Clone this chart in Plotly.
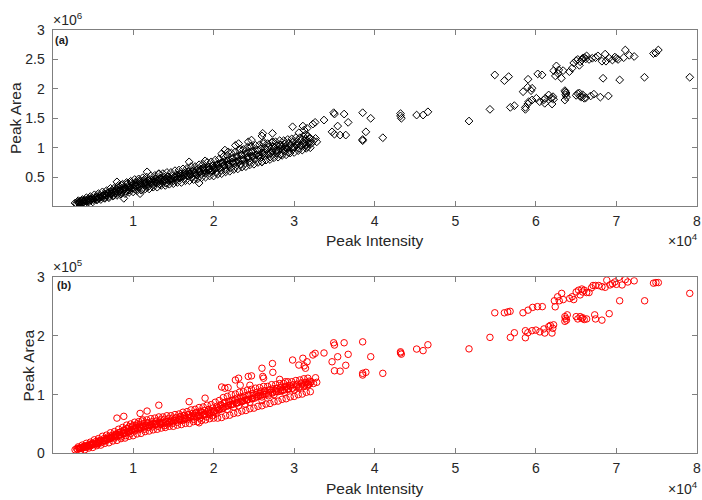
import plotly.graph_objects as go

# ---------------- data (intensity in units of 1e4; panel (a) area in 1e6; panel (b) area in 1e5) ----------------
band_intensity = [
    0.28, 0.30, 0.31, 0.33, 0.34, 0.36, 0.37, 0.39, 0.40, 0.42, 0.43, 0.45, 0.46, 0.48, 0.50, 0.51, 0.53, 0.55, 0.56, 0.58, 0.60,
    0.62, 0.64, 0.65, 0.67, 0.68, 0.70, 0.71, 0.73, 0.74, 0.76, 0.77, 0.79, 0.80, 0.82, 0.83, 0.85, 0.86, 0.88, 0.89, 0.91, 0.92, 0.94, 0.95, 0.97, 0.98, 1.00,
    1.01, 1.02, 1.04, 1.05, 1.07, 1.08, 1.10, 1.11, 1.13, 1.14, 1.16, 1.17, 1.19, 1.20, 1.22, 1.24, 1.25, 1.27, 1.29, 1.31, 1.33, 1.35, 1.37, 1.39, 1.41, 1.43, 1.45, 1.47, 1.49,
    1.51, 1.53, 1.55, 1.57, 1.59, 1.61, 1.63, 1.65, 1.67, 1.69, 1.71, 1.73, 1.75, 1.77, 1.79, 1.81, 1.83, 1.85, 1.87, 1.89, 1.91, 1.93, 1.95, 1.97, 1.99,
    2.01, 2.03, 2.05, 2.07, 2.09, 2.11, 2.13, 2.15, 2.17, 2.19, 2.21, 2.23, 2.25, 2.27, 2.29, 2.31, 2.33, 2.35, 2.37, 2.39, 2.41, 2.43, 2.45, 2.47, 2.49,
    2.51, 2.53, 2.55, 2.58, 2.60, 2.63, 2.65, 2.68, 2.70, 2.73, 2.75, 2.78, 2.80, 2.83, 2.85, 2.88, 2.90, 2.93, 2.95, 2.98, 3.00, 3.03, 3.06, 3.09, 3.12, 3.15, 3.18, 3.21, 3.24, 3.28,
    0.35, 0.47, 0.57, 0.66, 0.72, 0.78, 0.84, 0.90, 0.96, 1.03, 1.09, 1.15, 1.21, 1.28, 1.34, 1.40, 1.46, 1.52, 1.58, 1.64,
    1.70, 1.76, 1.82, 1.88, 1.94, 2.00, 2.06, 2.12, 2.18, 2.24, 2.30, 2.36, 2.42, 2.48, 2.56, 2.62, 2.71, 2.77, 2.86, 2.92,
]
band_area_a = [
    0.06, 0.05, 0.08, 0.07, 0.09, 0.06, 0.10, 0.08, 0.11, 0.09, 0.12, 0.10, 0.13, 0.11, 0.14, 0.12, 0.15, 0.13, 0.17, 0.14, 0.16,
    0.18, 0.15, 0.21, 0.19, 0.23, 0.17, 0.25, 0.21, 0.28, 0.19, 0.26, 0.30, 0.22, 0.33, 0.27, 0.24, 0.36, 0.29, 0.31, 0.26, 0.38, 0.33, 0.28, 0.35, 0.41, 0.31,
    0.38, 0.30, 0.42, 0.35, 0.33, 0.44, 0.37, 0.29, 0.40, 0.46, 0.36, 0.41, 0.34, 0.45, 0.39, 0.43, 0.37, 0.47, 0.40, 0.44, 0.38, 0.49, 0.42, 0.46, 0.40, 0.51, 0.44, 0.47, 0.43,
    0.50, 0.45, 0.53, 0.48, 0.56, 0.51, 0.47, 0.58, 0.53, 0.60, 0.55, 0.50, 0.62, 0.57, 0.53, 0.64, 0.59, 0.55, 0.66, 0.61, 0.57, 0.68, 0.63, 0.59, 0.70,
    0.64, 0.58, 0.72, 0.66, 0.61, 0.75, 0.69, 0.63, 0.78, 0.71, 0.66, 0.82, 0.74, 0.68, 0.85, 0.77, 0.71, 0.88, 0.79, 0.73, 0.91, 0.82, 0.76, 0.93, 0.85,
    0.80, 0.88, 0.95, 0.83, 0.91, 0.86, 0.97, 0.89, 0.84, 0.93, 1.00, 0.90, 0.95, 0.88, 1.02, 0.94, 0.99, 0.92, 1.04, 0.97, 1.01, 1.06, 0.99, 1.03, 1.08, 1.05, 1.10, 1.07, 1.12, 1.10,
    0.07, 0.12, 0.15, 0.20, 0.22, 0.24, 0.27, 0.30, 0.33, 0.36, 0.39, 0.40, 0.42, 0.43, 0.45, 0.46, 0.48, 0.49, 0.52, 0.54,
    0.56, 0.57, 0.60, 0.62, 0.63, 0.66, 0.68, 0.70, 0.73, 0.75, 0.78, 0.80, 0.83, 0.86, 0.87, 0.90, 0.91, 0.95, 0.96, 0.98,
]
band_area_b = [
    0.06, 0.08, 0.07, 0.09, 0.08, 0.10, 0.09, 0.11, 0.12, 0.10, 0.13, 0.12, 0.14, 0.13, 0.15, 0.16, 0.15, 0.17, 0.16, 0.19, 0.18,
    0.20, 0.22, 0.21, 0.24, 0.23, 0.26, 0.25, 0.28, 0.27, 0.30, 0.26, 0.32, 0.29, 0.35, 0.31, 0.28, 0.37, 0.33, 0.40, 0.30, 0.42, 0.36, 0.45, 0.34, 0.39, 0.47,
    0.42, 0.38, 0.44, 0.50, 0.40, 0.46, 0.43, 0.55, 0.45, 0.41, 0.48, 0.52, 0.44, 0.47, 0.49, 0.45, 0.51, 0.48, 0.50, 0.46, 0.53, 0.49, 0.51, 0.47, 0.54, 0.50, 0.52, 0.55, 0.51,
    0.55, 0.60, 0.53, 0.58, 0.62, 0.56, 0.64, 0.59, 0.57, 0.66, 0.61, 0.63, 0.58, 0.68, 0.62, 0.65, 0.60, 0.70, 0.64, 0.67, 0.62, 0.72, 0.66, 0.69, 0.64,
    0.72, 0.68, 0.78, 0.74, 0.82, 0.76, 0.86, 0.80, 0.75, 0.88, 0.83, 0.90, 0.79, 0.92, 0.86, 0.81, 0.94, 0.88, 0.96, 0.84, 0.91, 0.98, 0.87, 0.93, 0.99,
    0.94, 1.00, 0.97, 1.03, 0.96, 1.06, 1.01, 0.98, 1.08, 1.03, 1.00, 1.10, 1.05, 1.12, 1.07, 1.04, 1.13, 1.09, 1.15, 1.11, 1.08, 1.16, 1.12, 1.18, 1.14, 1.20, 1.17, 1.22, 1.19, 1.21,
    0.09, 0.14, 0.17, 0.22, 0.25, 0.28, 0.31, 0.34, 0.37, 0.41, 0.43, 0.45, 0.47, 0.49, 0.50, 0.52, 0.53, 0.56, 0.57, 0.59,
    0.61, 0.62, 0.64, 0.66, 0.68, 0.70, 0.74, 0.77, 0.81, 0.84, 0.86, 0.89, 0.91, 0.93, 0.99, 1.01, 1.04, 1.06, 1.08, 1.10,
]

# upper edge of the dense band
upper_intensity = [0.32, 0.37, 0.42, 0.47, 0.52, 0.57, 0.62, 0.67, 0.72, 0.77, 0.82, 0.87, 0.92, 0.97, 1.02, 1.07, 1.12, 1.17, 1.22, 1.27,
                   1.32, 1.37, 1.42, 1.47, 1.52, 1.57, 1.62, 1.67, 1.72, 1.77, 1.82, 1.87, 1.92, 1.97, 2.02, 2.07, 2.12, 2.17, 2.22, 2.27,
                   2.32, 2.37, 2.42, 2.47, 2.52, 2.57, 2.62, 2.67, 2.72, 2.77, 2.82, 2.87, 2.92, 2.97, 3.02, 3.07, 3.12, 3.17]
upper_area_a = [0.10, 0.12, 0.15, 0.17, 0.20, 0.22, 0.25, 0.27, 0.31, 0.32, 0.36, 0.38, 0.41, 0.43, 0.46, 0.47, 0.49, 0.50, 0.52, 0.53,
                0.55, 0.56, 0.58, 0.58, 0.61, 0.62, 0.64, 0.65, 0.68, 0.68, 0.71, 0.72, 0.75, 0.76, 0.79, 0.81, 0.85, 0.87, 0.91, 0.93,
                0.96, 0.97, 1.01, 1.02, 1.04, 1.05, 1.07, 1.07, 1.09, 1.10, 1.12, 1.12, 1.14, 1.15, 1.17, 1.17, 1.19, 1.20]
upper_area_b = [0.11, 0.14, 0.17, 0.19, 0.23, 0.25, 0.29, 0.31, 0.35, 0.37, 0.41, 0.44, 0.48, 0.50, 0.53, 0.54, 0.57, 0.57, 0.59, 0.60,
                0.62, 0.62, 0.64, 0.64, 0.66, 0.67, 0.70, 0.71, 0.74, 0.75, 0.78, 0.79, 0.82, 0.83, 0.87, 0.90, 0.95, 0.97, 1.00, 1.01,
                1.04, 1.05, 1.08, 1.09, 1.11, 1.12, 1.14, 1.14, 1.17, 1.17, 1.19, 1.19, 1.22, 1.22, 1.24, 1.25, 1.27, 1.28]

# lower edge of the dense band
lower_intensity = [0.35, 0.40, 0.45, 0.50, 0.55, 0.60, 0.65, 0.70, 0.75, 0.80, 0.85, 0.90, 0.95, 1.00, 1.05, 1.10, 1.15, 1.20, 1.25, 1.30,
                   1.35, 1.40, 1.45, 1.50, 1.55, 1.60, 1.65, 1.70, 1.75, 1.80, 1.85, 1.90, 1.95, 2.00, 2.05, 2.10, 2.15, 2.20, 2.25, 2.30,
                   2.35, 2.40, 2.45, 2.50, 2.55, 2.60, 2.65, 2.70, 2.75, 2.80, 2.85, 2.90, 2.95, 3.00, 3.05, 3.10, 3.15, 3.20]
lower_area_a = [0.04, 0.05, 0.08, 0.08, 0.11, 0.12, 0.14, 0.15, 0.18, 0.19, 0.21, 0.22, 0.24, 0.25, 0.27, 0.28, 0.30, 0.30, 0.33, 0.33,
                0.36, 0.36, 0.38, 0.39, 0.41, 0.41, 0.44, 0.44, 0.46, 0.47, 0.49, 0.50, 0.52, 0.52, 0.55, 0.56, 0.59, 0.60, 0.63, 0.64,
                0.67, 0.68, 0.71, 0.72, 0.75, 0.76, 0.79, 0.80, 0.83, 0.84, 0.87, 0.88, 0.91, 0.92, 0.95, 0.96, 0.99, 1.00]
lower_area_b = [0.05, 0.06, 0.09, 0.10, 0.13, 0.14, 0.17, 0.18, 0.21, 0.22, 0.25, 0.26, 0.29, 0.30, 0.33, 0.34, 0.37, 0.38, 0.40, 0.41,
                0.43, 0.44, 0.46, 0.46, 0.48, 0.49, 0.51, 0.51, 0.54, 0.54, 0.56, 0.57, 0.59, 0.60, 0.60, 0.61, 0.64, 0.65, 0.68, 0.69,
                0.72, 0.73, 0.76, 0.77, 0.80, 0.81, 0.84, 0.85, 0.88, 0.89, 0.92, 0.93, 0.96, 0.97, 1.00, 1.01, 1.04, 1.05]

# inner rows of the dense band
inner1_intensity = [0.33, 0.38, 0.43, 0.48, 0.53, 0.58, 0.63, 0.68, 0.73, 0.78, 0.83, 0.88, 0.93, 0.98, 1.03, 1.08, 1.13, 1.18, 1.23, 1.28,
                    1.33, 1.38, 1.43, 1.48, 1.53, 1.58, 1.63, 1.68, 1.73, 1.78, 1.83, 1.88, 1.93, 1.98, 2.03, 2.08, 2.13, 2.18, 2.23, 2.28,
                    2.33, 2.38, 2.43, 2.48, 2.53, 2.58, 2.63, 2.68, 2.73, 2.78, 2.83, 2.88, 2.93, 2.98, 3.03, 3.08, 3.13, 3.18]
inner1_area_a = [0.06, 0.07, 0.09, 0.11, 0.14, 0.15, 0.18, 0.19, 0.22, 0.23, 0.26, 0.27, 0.30, 0.31, 0.34, 0.35, 0.37, 0.37, 0.40, 0.40,
                 0.43, 0.43, 0.46, 0.46, 0.49, 0.49, 0.52, 0.52, 0.55, 0.55, 0.58, 0.58, 0.62, 0.62, 0.66, 0.66, 0.71, 0.71, 0.76, 0.76,
                 0.80, 0.80, 0.85, 0.85, 0.88, 0.88, 0.92, 0.92, 0.95, 0.95, 0.98, 0.98, 1.01, 1.01, 1.04, 1.04, 1.07, 1.07]
inner1_area_b = [0.08, 0.10, 0.12, 0.15, 0.17, 0.20, 0.22, 0.25, 0.27, 0.30, 0.32, 0.35, 0.37, 0.40, 0.42, 0.44, 0.45, 0.47, 0.48, 0.50,
                 0.51, 0.53, 0.54, 0.55, 0.56, 0.58, 0.59, 0.61, 0.62, 0.64, 0.65, 0.67, 0.69, 0.71, 0.73, 0.76, 0.79, 0.81, 0.83, 0.86,
                 0.88, 0.90, 0.92, 0.94, 0.96, 0.98, 1.00, 1.01, 1.03, 1.05, 1.06, 1.08, 1.10, 1.11, 1.13, 1.14, 1.16, 1.18]

inner2_intensity = [0.34, 0.39, 0.44, 0.49, 0.54, 0.59, 0.64, 0.69, 0.74, 0.79, 0.84, 0.89, 0.94, 0.99, 1.04, 1.09, 1.14, 1.19, 1.24, 1.29,
                    1.34, 1.39, 1.44, 1.49, 1.54, 1.59, 1.64, 1.69, 1.74, 1.79, 1.84, 1.89, 1.94, 1.99, 2.04, 2.09, 2.14, 2.19, 2.24, 2.29,
                    2.34, 2.39, 2.44, 2.49, 2.54, 2.59, 2.64, 2.69, 2.74, 2.79, 2.84, 2.89, 2.94, 2.99, 3.04, 3.09, 3.14, 3.19]
inner2_area_a = [0.08, 0.10, 0.12, 0.14, 0.16, 0.19, 0.21, 0.23, 0.26, 0.27, 0.30, 0.33, 0.35, 0.38, 0.40, 0.42, 0.43, 0.44, 0.46, 0.47,
                 0.48, 0.50, 0.51, 0.52, 0.54, 0.55, 0.57, 0.58, 0.60, 0.62, 0.63, 0.65, 0.67, 0.69, 0.71, 0.74, 0.77, 0.79, 0.82, 0.85,
                 0.87, 0.89, 0.92, 0.94, 0.96, 0.98, 0.99, 1.01, 1.02, 1.04, 1.05, 1.07, 1.08, 1.10, 1.11, 1.13, 1.14, 1.16]
inner2_area_b = [0.09, 0.12, 0.14, 0.17, 0.20, 0.22, 0.25, 0.28, 0.31, 0.33, 0.36, 0.39, 0.42, 0.45, 0.47, 0.49, 0.51, 0.52, 0.54, 0.55,
                 0.57, 0.58, 0.59, 0.60, 0.61, 0.63, 0.65, 0.66, 0.68, 0.70, 0.72, 0.73, 0.75, 0.77, 0.80, 0.83, 0.87, 0.89, 0.91, 0.94,
                 0.96, 0.98, 1.00, 1.02, 1.04, 1.06, 1.07, 1.08, 1.10, 1.11, 1.13, 1.14, 1.16, 1.17, 1.18, 1.20, 1.21, 1.23]

# scattered points off the dense band
mid_intensity = [0.80, 0.885, 1.087, 1.174, 1.32, 1.696, 1.82, 1.894, 2.10, 2.14, 2.18, 2.27, 2.31, 2.33, 2.43, 2.47, 2.45,
                 2.60, 2.61, 2.62, 2.60, 2.73, 2.735, 2.82, 2.89, 2.98, 3.108, 3.124, 3.14, 3.058, 3.16, 3.232, 3.26,
                 3.165, 3.199, 3.265, 3.37, 3.49, 3.50, 3.62, 3.54, 3.67, 3.47, 3.50, 3.57, 3.64, 3.85, 3.95, 3.89,
                 3.85, 3.85, 4.10, 4.32, 4.32, 4.33, 4.52, 4.60, 4.66, 5.17, 5.43, 5.49]
mid_area_a = [0.42, 0.14, 0.22, 0.59, 0.56, 0.76, 0.40, 0.777, 0.90, 0.96, 0.93, 1.04, 1.07, 0.98, 1.10, 1.13, 1.02,
              1.20, 1.244, 1.10, 0.76, 1.244, 1.10, 1.05, 1.02, 1.356, 1.368, 1.30, 1.22, 1.254, 1.33, 1.402, 1.431,
              1.016, 1.158, 1.158, 1.47, 1.595, 1.572, 1.572, 1.368, 1.431, 1.27, 1.23, 1.215, 1.215, 1.595, 1.50, 1.27,
              1.14, 1.12, 1.17, 1.58, 1.54, 1.50, 1.555, 1.555, 1.61, 1.453, 1.652, 2.237]
mid_area_b = [0.60, 0.63, 0.68, 0.72, 0.82, 0.88, 0.52, 0.94, 1.13, 1.11, 1.12, 1.25, 1.28, 1.16, 1.31, 1.32, 1.16,
              1.45, 1.31, 1.28, 0.90, 1.53, 1.38, 1.26, 1.22, 1.59, 1.62, 1.49, 1.45, 1.504, 1.56, 1.676, 1.704,
              1.16, 1.20, 1.288, 1.71, 1.884, 1.845, 1.884, 1.646, 1.687, 1.56, 1.407, 1.40, 1.50, 1.90, 1.646, 1.38,
              1.363, 1.334, 1.363, 1.73, 1.71, 1.69, 1.777, 1.75, 1.85, 1.78, 1.976, 2.395]

# high-intensity clusters, panel (a)
high_intensity_a = [5.609, 5.662, 5.903, 5.898, 5.953, 5.94, 5.841, 6.023, 6.077, 6.221, 6.255, 6.284, 6.242, 6.271, 6.317,
                    6.338, 6.416, 6.45, 6.47, 6.50, 6.52, 6.55, 6.57, 6.60, 6.62, 6.63, 6.58, 6.54, 6.66, 6.70, 6.74, 6.77,
                    6.82, 6.86, 6.87, 6.91, 6.95, 6.98, 7.00, 7.02, 7.09, 7.11, 7.16, 7.22, 7.46, 7.49, 7.52, 6.834, 7.04,
                    7.348, 7.91,
                    5.683, 5.733, 5.87, 5.87, 5.90, 5.911, 5.953, 6.006, 6.048, 6.097, 6.118, 6.11, 6.159, 6.188, 6.201,
                    6.213, 6.22, 6.36, 6.37, 6.36, 6.38, 6.375, 6.365, 6.50, 6.52, 6.55, 6.57, 6.60, 6.62, 6.54, 6.58,
                    6.68, 6.72, 6.80, 6.90]
high_area_a = [2.14, 2.208, 2.163, 2.027, 2.01, 1.97, 1.952, 2.254, 2.237, 2.31, 2.39, 2.322, 2.22, 2.266, 2.18,
               2.31, 2.293, 2.351, 2.44, 2.48, 2.50, 2.46, 2.49, 2.53, 2.51, 2.56, 2.52, 2.40, 2.50, 2.52, 2.53, 2.56,
               2.47, 2.59, 2.47, 2.52, 2.49, 2.54, 2.52, 2.50, 2.53, 2.66, 2.57, 2.55, 2.60, 2.61, 2.66, 2.18, 2.152,
               2.197, 2.197,
               1.686, 1.714, 1.652, 1.686, 1.743, 1.782, 1.811, 1.84, 1.782, 1.811, 1.84, 1.755, 1.896, 1.84, 1.743,
               1.867, 1.823, 1.97, 1.90, 1.81, 1.86, 1.93, 1.95, 1.89, 1.92, 1.87, 1.86, 1.84, 1.85, 1.93, 1.90,
               1.88, 1.91, 1.86, 1.88]

# high-intensity clusters, panel (b)
high_intensity_b = [5.609, 5.65, 5.68, 5.84, 5.903, 5.96, 6.02, 6.08,
                    5.683, 5.733, 5.87, 5.87, 5.90, 5.953, 6.00, 6.05, 6.10, 6.11, 6.16, 6.18, 6.20, 6.22, 6.21,
                    6.36, 6.37, 6.38, 6.36, 6.39, 6.50, 6.52, 6.55, 6.57, 6.60, 6.63, 6.58, 6.73, 6.74, 6.82, 6.91,
                    6.24, 6.23, 6.27, 6.29, 6.32, 6.34, 6.42, 6.45, 6.47, 6.50, 6.53, 6.55, 6.57, 6.58, 6.60, 6.63,
                    6.66, 6.69, 6.71, 6.74, 6.78, 6.82, 6.88, 6.86, 6.92, 6.95, 6.98, 7.00, 7.03, 7.07, 7.11, 7.14,
                    7.22, 7.46, 7.49, 7.52, 7.04, 7.35, 7.91]
high_area_b = [2.395, 2.41, 2.42, 2.395, 2.44, 2.487, 2.50, 2.50,
               1.976, 2.055, 2.09, 1.97, 2.055, 2.09, 2.10, 2.07, 2.12, 2.05, 2.16, 2.18, 2.05, 2.19, 2.13,
               2.33, 2.30, 2.27, 2.25, 2.36, 2.33, 2.29, 2.33, 2.30, 2.28, 2.29, 2.31, 2.36, 2.29, 2.27, 2.38,
               2.497, 2.60, 2.668, 2.60, 2.726, 2.62, 2.64, 2.668, 2.62, 2.75, 2.78, 2.70, 2.80, 2.75, 2.78, 2.74,
               2.74, 2.82, 2.86, 2.86, 2.86, 2.84, 2.95, 2.83, 2.87, 2.89, 2.92, 2.88, 3.00, 2.87, 2.96, 2.92,
               2.94, 2.90, 2.91, 2.91, 2.60, 2.60, 2.726]

x_ticks = [1, 2, 3, 4, 5, 6, 7, 8]
y_ticks_a = [0.5, 1, 1.5, 2, 2.5, 3]
y_ticks_a_text = ["0.5", "1", "1.5", "2", "2.5", "3"]
y_ticks_b = [0, 1, 2, 3]

# ---------------- figure ----------------
W, H = 702, 500
FONT = "Liberation Sans, Arial, Helvetica, sans-serif"
TXT = "#262626"
LINE = "#7f7f7f"


def px_x(p):
    return p / W


def px_y(p):
    return 1 - p / H


x_a = (band_intensity + upper_intensity + lower_intensity + inner1_intensity + inner2_intensity
       + mid_intensity + high_intensity_a)
y_a = band_area_a + upper_area_a + lower_area_a + inner1_area_a + inner2_area_a + mid_area_a + high_area_a
x_b = (band_intensity + upper_intensity + lower_intensity + inner1_intensity + inner2_intensity
       + mid_intensity + high_intensity_b)
y_b = band_area_b + upper_area_b + lower_area_b + inner1_area_b + inner2_area_b + mid_area_b + high_area_b

fig = go.Figure()
fig.add_trace(go.Scatter(x=x_a, y=y_a, mode="markers", xaxis="x", yaxis="y",
                         marker=dict(symbol="diamond-open", size=6, color="black", line=dict(width=1, color="black")),
                         showlegend=False, hoverinfo="skip"))
fig.add_trace(go.Scatter(x=x_b, y=y_b, mode="markers", xaxis="x2", yaxis="y2",
                         marker=dict(symbol="circle-open", size=6.5, color="red", line=dict(width=1, color="red")),
                         showlegend=False, hoverinfo="skip"))

axis_common = dict(showline=True, linecolor=LINE, linewidth=1, mirror="ticks", ticks="inside", ticklen=5,
                   tickcolor=LINE, tickwidth=1, showgrid=False, zeroline=False, ticklabeloverflow="allow",
                   tickfont=dict(family=FONT, size=14, color=TXT))

xdom = [px_x(52.5), px_x(697)]
fig.update_layout(
    width=W, height=H, margin=dict(l=0, r=0, t=0, b=0, autoexpand=False),
    paper_bgcolor="white", plot_bgcolor="white",
    xaxis=dict(domain=xdom, range=[0, 8], tickvals=x_ticks, ticktext=[str(v) for v in x_ticks],
               anchor="y", ticklabelstandoff=2, **axis_common),
    yaxis=dict(domain=[px_y(206.3), px_y(30)], range=[0.005, 3], tickvals=y_ticks_a,
               ticktext=y_ticks_a_text, anchor="x", ticklabelstandoff=4, **axis_common),
    xaxis2=dict(domain=xdom, range=[0, 8], tickvals=x_ticks, ticktext=[str(v) for v in x_ticks],
                anchor="y2", ticklabelstandoff=2, **axis_common),
    yaxis2=dict(domain=[px_y(453.3), px_y(277.3)], range=[0, 3], tickvals=y_ticks_b,
                ticktext=[str(v) for v in y_ticks_b], anchor="x2", ticklabelstandoff=4, **axis_common),
)


def ann(text, x, y, size, xanchor="center", yanchor="middle", angle=0, bold=False, color=TXT):
    fig.add_annotation(text=("<b>%s</b>" % text) if bold else text, x=px_x(x), y=px_y(y),
                       xref="paper", yref="paper", showarrow=False, xanchor=xanchor, yanchor=yanchor,
                       textangle=angle, font=dict(family=FONT, size=size, color=color))


ann("Peak Intensity", 375, 240, 15.5)
ann("Peak Intensity", 375, 488, 15.5)
ann("Peak Area", 15, 118, 15.5, angle=-90)
ann("Peak Area", 27.5, 365, 15.5, angle=-90)
ann("×10<sup>6</sup>", 51, 30, 14, xanchor="left", yanchor="bottom")
ann("×10<sup>5</sup>", 51, 277, 14, xanchor="left", yanchor="bottom")
ann("×10<sup>4</sup>", 700, 251, 14, xanchor="right", yanchor="bottom")
ann("×10<sup>4</sup>", 700, 499, 14, xanchor="right", yanchor="bottom")
ann("(a)", 53, 40, 11, xanchor="left", bold=True, color="#1a1a1a")
ann("(b)", 55, 285, 11, xanchor="left", bold=True, color="#1a1a1a")

fig.write_html("out.html", config={"displayModeBar": False},
               post_script="document.body.style.margin='0';document.body.style.overflow='hidden';")
